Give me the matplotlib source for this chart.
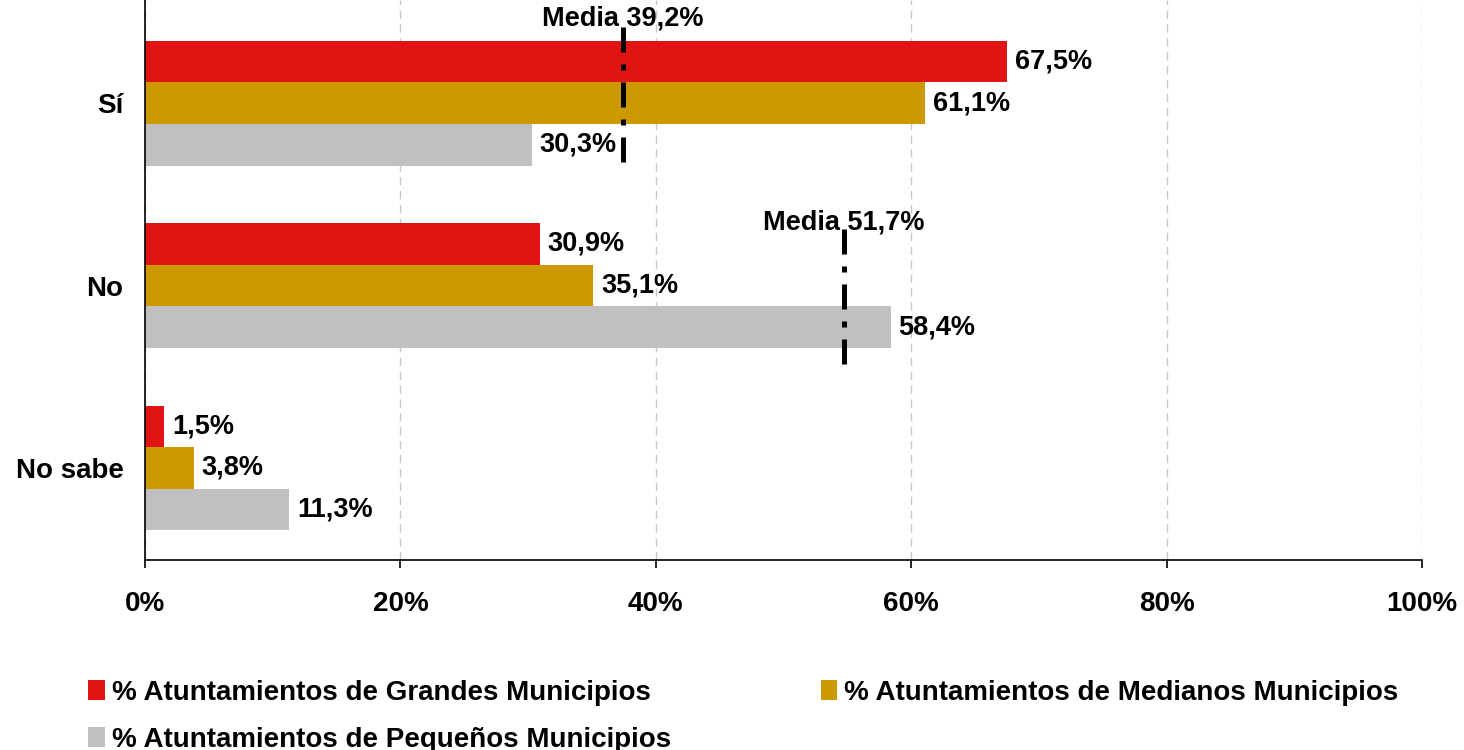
import matplotlib
matplotlib.use("Agg")
import matplotlib.pyplot as plt
import numpy as np

plt.rcParams['font.family'] = ['Liberation Sans', 'DejaVu Sans']
plt.rcParams['font.weight'] = 'bold'

categories = ["Sí", "No", "No sabe"]
series_names = ["% Atuntamientos de Grandes Municipios",
                "% Atuntamientos de Medianos Municipios",
                "% Atuntamientos de Pequeños Municipios"]
grandes = [67.5, 30.9, 1.5]
medianos = [61.1, 35.1, 3.8]
pequenos = [30.3, 58.4, 11.3]
value_labels = [["67,5%", "30,9%", "1,5%"],
                ["61,1%", "35,1%", "3,8%"],
                ["30,3%", "58,4%", "11,3%"]]
colors = ["#E11414", "#CC9900", "#C0C0C0"]

media_labels = ["Media 39,2%", "Media 51,7%"]
media_pos = [37.4, 54.7]          # where the reference draws the lines
media_cat = [0, 1]                # category index of each mean line
media_span = [(0.43, -0.32), (0.31, -0.43)]

xticks = [0, 20, 40, 60, 80, 100]
xticklabels = ["0%", "20%", "40%", "60%", "80%", "100%"]

fig = plt.figure(figsize=(14.64, 7.5), dpi=100)
ax = fig.add_axes([145/1464, 1 - 560/750, (1422-145)/1464, 560/750])

n = len(categories)
ypos = np.arange(n)[::-1].astype(float)   # Sí at top
bh = 0.228
series = [grandes, medianos, pequenos]
bars = []
for i, (vals, c) in enumerate(zip(series, colors)):
    y = ypos + (1 - i) * bh
    b = ax.barh(y, vals, height=bh, color=c, label=series_names[i], zorder=2)
    bars.append(b)
    for yy, v, lab in zip(y, vals, value_labels[i]):
        ax.text(v + 0.6, yy, lab, va='center', ha='left', fontsize=19.5,
                fontweight='bold', color='black', zorder=4)

for lab, xp, ci, (top, bot) in zip(media_labels, media_pos, media_cat, media_span):
    yc = ypos[ci]
    ax.plot([xp, xp], [yc + bot, yc + top], color='black', lw=3.6,
            linestyle=(0, (5, 2.4, 1.2, 2.4)), zorder=3, solid_capstyle='butt',
            dash_capstyle='butt')
    ax.text(xp, yc + top - 0.005, lab, ha='center', va='baseline', fontsize=19.5,
            fontweight='bold', color='black', zorder=4, clip_on=False)

ax.set_xlim(0, 100)
ax.set_ylim(-0.505, 2.566)
ax.set_xticks(xticks)
ax.set_xticklabels(xticklabels, fontsize=20, fontweight='bold')
ax.set_yticks(ypos)
ax.set_yticklabels(categories, fontsize=20, fontweight='bold')
ax.tick_params(axis='y', length=0, pad=15.5)
ax.tick_params(axis='x', length=6, width=1.2, direction='out', pad=16, color='black')
ax.xaxis.grid(True, color='#C8C8C8', linestyle=(0, (6, 4)), lw=1.0, zorder=0)
ax.set_axisbelow(True)
for s in ['top', 'right']:
    ax.spines[s].set_visible(False)
ax.spines['left'].set_linewidth(1.2)
ax.spines['bottom'].set_linewidth(1.2)

handles = [bars[0], bars[2], bars[1]]
labels = [series_names[0], series_names[2], series_names[1]]
fig.legend(handles, labels, ncol=2, loc='upper left',
           bbox_to_anchor=(88/1464, 1 - 680/750), frameon=False,
           prop={'weight': 'bold', 'size': 20},
           handlelength=0.6, handleheight=0.75, handletextpad=0.25,
           columnspacing=5.4, labelspacing=0.75, borderaxespad=0, borderpad=0)

fig.savefig("out.png", dpi=100)
